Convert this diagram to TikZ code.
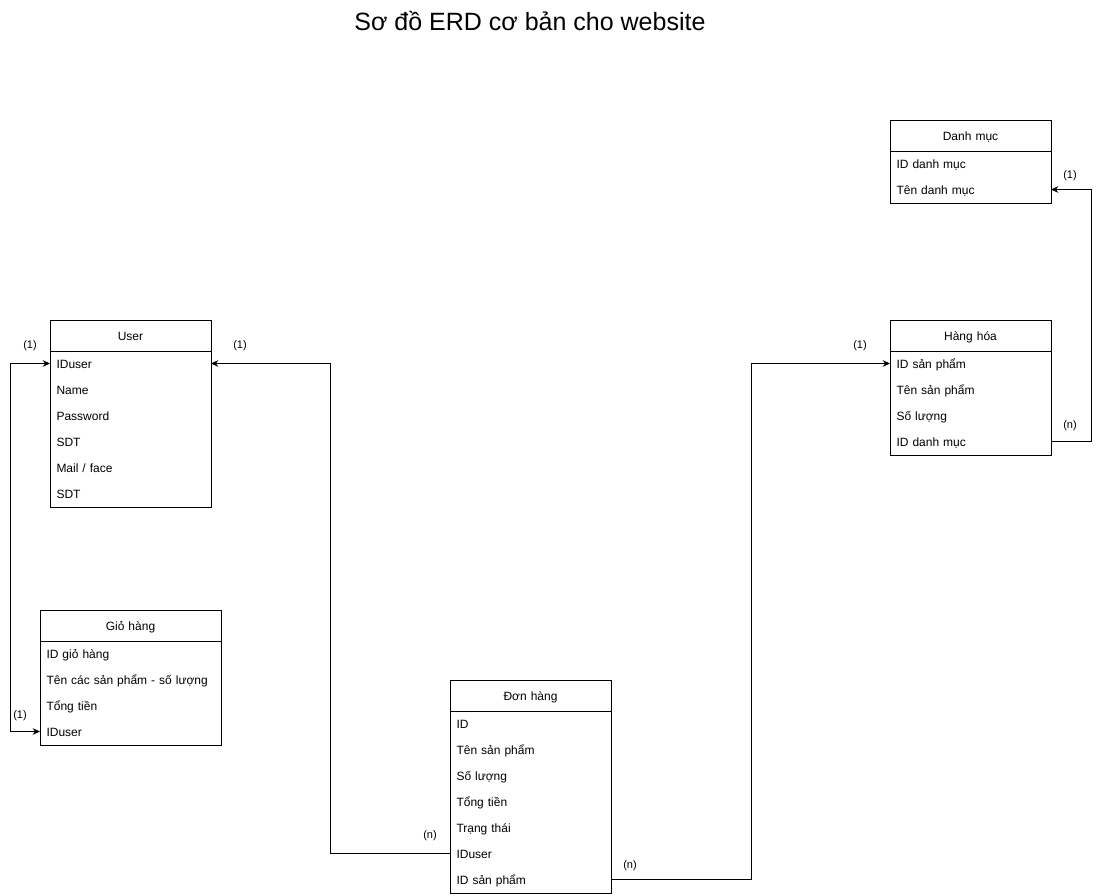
\documentclass[tikz,border=0pt]{standalone}
\usepackage{fontspec}
\setmainfont{Liberation Sans}
\usetikzlibrary{arrows.meta,positioning}

\begin{document}
\begin{tikzpicture}[x=0.75pt,y=-0.75pt,line width=0.75pt,
  font=\fontsize{9}{11}\selectfont,>={Stealth[length=5.5pt,width=5pt]},
  head/.style={anchor=north west,text width=#1,inner xsep=0pt,align=center,minimum height=22.5pt,text height=6.8pt,text depth=0pt},
  fld/.style={anchor=north west,text width=#1,inner xsep=4.5pt,align=left,minimum height=19.5pt,text height=6.8pt,text depth=0pt},
  card/.style={font=\fontsize{8.25}{10}\selectfont}]
\useasboundingbox (0,0) rectangle (1100,896);
\node (title) at (530,21) {\fontsize{18.75}{22}\selectfont Sơ đồ ERD cơ bản cho website};
% ---------------- User ----------------
\node[head=120pt] (user-h) at (50,320) {User};
\foreach \t [count=\i] in {IDuser,Name,Password,SDT,{Mail / face},SDT}
  \node[fld=111pt] (user-\i) at (50,{350+26*(\i-1)}) {\t};
\draw (user-h.north west) rectangle (user-6.south east);
\draw (user-h.south west) -- (user-h.south east);
% ---------------- Gio hang ----------------
\node[head=135pt] (gio-h) at (40,610) {Giỏ hàng};
\foreach \t [count=\i] in {ID giỏ hàng,Tên các sản phẩm - số lượng,Tổng tiền,IDuser}
  \node[fld=126pt] (gio-\i) at (40,{640+26*(\i-1)}) {\t};
\draw (gio-h.north west) rectangle (gio-4.south east);
\draw (gio-h.south west) -- (gio-h.south east);
% ---------------- Don hang ----------------
\node[head=120pt] (don-h) at (450,680) {Đơn hàng};
\foreach \t [count=\i] in {ID,Tên sản phẩm,Số lượng,Tổng tiền,Trạng thái,IDuser,ID sản phẩm}
  \node[fld=111pt] (don-\i) at (450,{710+26*(\i-1)}) {\t};
\draw (don-h.north west) rectangle (don-7.south east);
\draw (don-h.south west) -- (don-h.south east);
% ---------------- Danh muc ----------------
\node[head=120pt] (danh-h) at (890,120) {Danh mục};
\foreach \t [count=\i] in {ID danh mục,Tên danh mục}
  \node[fld=111pt] (danh-\i) at (890,{150+26*(\i-1)}) {\t};
\draw (danh-h.north west) rectangle (danh-2.south east);
\draw (danh-h.south west) -- (danh-h.south east);
% ---------------- Hang hoa ----------------
\node[head=120pt] (hang-h) at (890,320) {Hàng hóa};
\foreach \t [count=\i] in {ID sản phẩm,Tên sản phẩm,Số lượng,ID danh mục}
  \node[fld=111pt] (hang-\i) at (890,{350+26*(\i-1)}) {\t};
\draw (hang-h.north west) rectangle (hang-4.south east);
\draw (hang-h.south west) -- (hang-h.south east);
% ---------------- relations ----------------
\draw[<->] (gio-4.west) -- ++(-30,0) |- (user-1.west);
\draw[->] (don-6.west) -- ++(-120,0) |- (user-1.east);
\draw[->] (don-7.east) -- ++(140,0) |- (hang-1.west);
\draw[->] (hang-4.east) -- ++(40,0) |- (danh-2.east);
% cardinalities
\node[card] (card-user-l) at (30,346) {(1)};
\node[card] (card-gio) at (20,716) {(1)};
\node[card] (card-user-r) at (240,346) {(1)};
\node[card] (card-don-l) at (430,836) {(n)};
\node[card] (card-don-r) at (630,866) {(n)};
\node[card] (card-hang-l) at (860,346) {(1)};
\node[card] (card-hang-r) at (1070,426) {(n)};
\node[card] (card-danh) at (1070,176) {(1)};
\end{tikzpicture}
\end{document}
